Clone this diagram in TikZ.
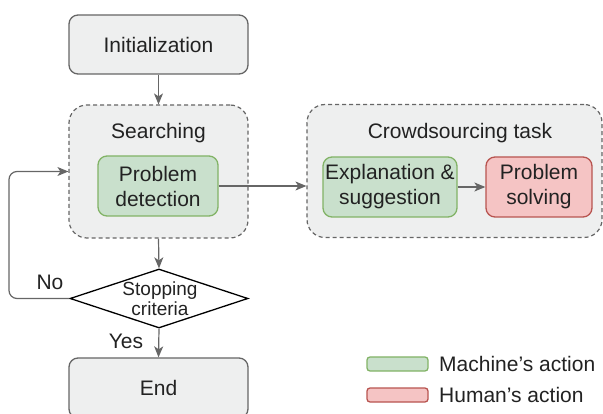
\documentclass[tikz,border=0pt]{standalone}
\usepackage{fontspec}
\setmainfont{Liberation Sans}
\usetikzlibrary{shapes.geometric,arrows.meta}
\definecolor{boxfill}{HTML}{EEEFEF}
\definecolor{boxline}{HTML}{666666}
\definecolor{greenfill}{HTML}{C9E0CC}
\definecolor{greenline}{HTML}{82B366}
\definecolor{redfill}{HTML}{F5C4C4}
\definecolor{redline}{HTML}{B85450}
\definecolor{ink}{HTML}{222222}
\begin{document}
\begin{tikzpicture}[x=1pt,y=-1pt,
  base/.style={rounded corners=9pt, line width=1.3pt, inner sep=0pt, align=center,
    font=\fontsize{21}{25}\selectfont, text=ink},
  grey/.style={base, draw=boxline, fill=boxfill},
  group/.style={draw=boxline, fill=boxfill, dash pattern=on 4pt off 3pt,
    rounded corners=18pt, line width=1.2pt, inner sep=0pt},
  act/.style={base, fill=greenfill, draw=greenline},
  hum/.style={base, fill=redfill, draw=redline},
  link/.style={draw=boxline, line width=1.2pt, -{Stealth[length=11pt,width=9pt,inset=3pt]}},
  lbl/.style={inner sep=0pt, font=\fontsize{21}{25}\selectfont, text=ink}
]
\useasboundingbox (0,0) rectangle (603,414);

% main flow boxes
\node[grey, minimum width=179pt, minimum height=59pt] (init) at (158.5,44.5) {Initialization};

\node[group, minimum width=179pt, minimum height=133pt] (search) at (158.5,171.5) {};
\node[lbl] (searchlbl) at (158.5,133) {Searching};
\node[act, minimum width=120pt, minimum height=60pt] (detect) at (158,186) {Problem\\detection};

\node[group, minimum width=295pt, minimum height=133pt] (crowd) at (454.5,171) {};
\node[lbl] (crowdlbl) at (460,133) {Crowdsourcing task};
\node[act, minimum width=134pt, minimum height=60pt] (explain) at (390,187) {Explanation \&\\suggestion};
\node[hum, minimum width=106pt, minimum height=60pt] (solve) at (539,187) {Problem\\solving};

% decision: empty diamond with its text set on top
\node[diamond, draw=black, fill=white, line width=1.3pt, minimum width=178pt,
  minimum height=59pt, inner sep=0pt] (stop) at (159,298.5) {};
\node[inner sep=0pt, align=center, text=ink, font=\fontsize{19}{20}\selectfont]
  (stoptext) at (160,299) {Stopping\\criteria};

\node[grey, minimum width=179pt, minimum height=60pt] (end) at (158.5,388) {End};

% connectors
\coordinate (loopx) at (9,0);
\draw[link] (init.south) -- (search.north);
\draw[link] (search.south) -- (stop.north);
\draw[link] (stop.south) -- (end.north);
\draw[link] (detect.east) -- (detect.east -| crowd.west);
\draw[link] (explain) -- (solve);
\draw[link, rounded corners=8pt] (stop.west) -| (loopx |- search.west) -- (search.west);

\node[lbl] (no) at (50,282) {No};
\node[lbl] (yes) at (126,341) {Yes};

% legend
\node[act, rounded corners=3pt, minimum width=61pt, minimum height=14pt] (lgm) at (397.5,364) {};
\node[lbl, anchor=west] (lgmtext) at (439,364) {Machine’s action};
\node[hum, rounded corners=3pt, minimum width=61pt, minimum height=14pt] (lgh) at (397.5,395) {};
\node[lbl, anchor=west] (lghtext) at (439,395) {Human’s action};
\end{tikzpicture}
\end{document}
